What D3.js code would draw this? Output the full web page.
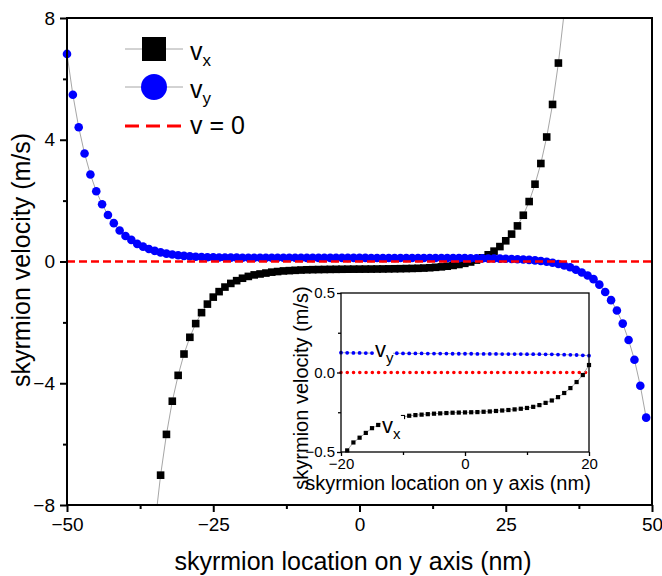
<!DOCTYPE html>
<html>
<head>
<meta charset="utf-8">
<script src="https://cdn.jsdelivr.net/npm/d3@7"></script>
<style>
  html, body { margin: 0; padding: 0; background: #fff; }
  svg { display: block; font-family: Arial, "Liberation Sans", sans-serif; }
</style>
</head>
<body>
<svg id="chart" width="662" height="576"></svg>
<script>
// Skyrmion velocity components versus position along y (nm)

// v_x samples (m/s) at positions vxPos (nm)
const vxPos = [-36,-35,-34,-33,-32,-31,-30,-29,-28,-27,-26,-25,-24,-23,-22,-21,-20,-19,-18,-17,-16,-15,-14,-13,-12,-11,-10,-9,-8,-7,-6,-5,-4,-3,-2,-1,0,1,2,3,4,5,6,7,8,9,10,11,12,13,14,15,16,17,18,19,20,21,22,23,24,25,26,27,28,29,30,31,32,33,34,35,36];
const vxVal = [-10.80,-8.70,-7.02,-5.68,-4.59,-3.74,-3.04,-2.49,-2.04,-1.68,-1.40,-1.17,-0.99,-0.84,-0.72,-0.63,-0.55,-0.49,-0.44,-0.41,-0.38,-0.35,-0.33,-0.31,-0.30,-0.29,-0.28,-0.272,-0.268,-0.265,-0.262,-0.259,-0.257,-0.255,-0.253,-0.252,-0.251,-0.250,-0.249,-0.247,-0.245,-0.242,-0.239,-0.236,-0.232,-0.228,-0.223,-0.216,-0.205,-0.191,-0.176,-0.155,-0.129,-0.098,-0.060,-0.016,0.047,0.12,0.22,0.34,0.49,0.68,0.90,1.17,1.52,1.97,2.54,3.22,4.09,5.16,6.52,8.20,10.40];

// v_y samples (m/s) at positions vyPos (nm)
const vyPos = [-50,-49,-48,-47,-46,-45,-44,-43,-42,-41,-40,-39,-38,-37,-36,-35,-34,-33,-32,-31,-30,-29,-28,-27,-26,-25,-24,-23,-22,-21,-20,-19,-18,-17,-16,-15,-14,-13,-12,-11,-10,-9,-8,-7,-6,-5,-4,-3,-2,-1,0,1,2,3,4,5,6,7,8,9,10,11,12,13,14,15,16,17,18,19,20,21,22,23,24,25,26,27,28,29,30,31,32,33,34,35,36,37,38,39,40,41,42,43,44,45,46,47,48,49];
const vyVal = [6.82,5.48,4.41,3.55,2.86,2.31,1.88,1.53,1.26,1.02,0.84,0.71,0.58,0.49,0.41,0.35,0.30,0.26,0.23,0.205,0.185,0.17,0.158,0.149,0.142,0.137,0.133,0.130,0.128,0.126,0.125,0.124,0.123,0.123,0.122,0.122,0.122,0.121,0.121,0.121,0.120,0.120,0.120,0.120,0.119,0.119,0.119,0.119,0.118,0.118,0.118,0.118,0.117,0.117,0.117,0.117,0.116,0.116,0.116,0.116,0.115,0.115,0.115,0.114,0.114,0.113,0.112,0.111,0.110,0.108,0.106,0.104,0.101,0.098,0.094,0.089,0.083,0.075,0.066,0.054,0.038,0.018,-0.008,-0.04,-0.08,-0.13,-0.19,-0.27,-0.36,-0.46,-0.58,-0.76,-1.00,-1.27,-1.61,-2.04,-2.58,-3.23,-4.08,-5.13];

// Axis ticks
const mainXTicks = [-50, -25, 0, 25, 50];
const mainXMinor = [-37.5, -12.5, 12.5, 37.5];
const mainYTicks = [-8, -4, 0, 4, 8];
const mainYMinor = [-6, -2, 2, 6];
const insetXTicks = [-20, 0, 20];
const insetXMinor = [-10, 10];
const insetYTicks = [-0.5, 0, 0.5];
const insetYMinor = [-0.25, 0.25];

// Legend entries
const legendLabels = [
  { main: "v", sub: "x" },
  { main: "v", sub: "y" },
  { main: "v = 0", sub: "" }
];

const vx = vxPos.map((p, i) => ({ p, v: vxVal[i] }));
const vy = vyPos.map((p, i) => ({ p, v: vyVal[i] }));

const svg = d3.select("#chart");
const FONT = 'Arial, "Liberation Sans", sans-serif';
const LINE_GREY = "#a6a6a6";

// ---------- main panel ----------
const M = { left: 67, right: 652, top: 18, bottom: 505 };
const x = d3.scaleLinear().domain([-50, 50]).range([M.left, M.right]);
const y = d3.scaleLinear().domain([-8, 8]).range([M.bottom, M.top]);

svg.append("clipPath").attr("id", "clipMain")
  .append("rect").attr("x", M.left).attr("y", M.top)
  .attr("width", M.right - M.left).attr("height", M.bottom - M.top);

const mainG = svg.append("g");
const inRange = (sx, sy) => d => d.v >= sy.domain()[0] && d.v <= sy.domain()[1] && d.p >= sx.domain()[0] && d.p <= sx.domain()[1];

const lineMain = d3.line().x(d => x(d.p)).y(d => y(d.v));

mainG.append("path").datum(vx).attr("d", lineMain)
  .attr("fill", "none").attr("stroke", LINE_GREY).attr("stroke-width", 1)
  .attr("clip-path", "url(#clipMain)");
mainG.append("g").selectAll("rect").data(vx.filter(inRange(x, y))).join("rect")
  .attr("x", d => x(d.p) - 3.8).attr("y", d => y(d.v) - 3.8)
  .attr("width", 7.6).attr("height", 7.6).attr("fill", "#000");

mainG.append("path").datum(vy).attr("d", lineMain)
  .attr("fill", "none").attr("stroke", LINE_GREY).attr("stroke-width", 1)
  .attr("clip-path", "url(#clipMain)");
mainG.append("g").selectAll("circle").data(vy.filter(inRange(x, y))).join("circle")
  .attr("cx", d => x(d.p)).attr("cy", d => y(d.v)).attr("r", 4.3)
  .attr("fill", "#0000ff");

// v = 0 reference
mainG.append("line")
  .attr("x1", x(-50)).attr("x2", x(50)).attr("y1", y(0)).attr("y2", y(0))
  .attr("stroke", "#ff0000").attr("stroke-width", 2.5).attr("stroke-dasharray", "8,4");

// frame
svg.append("rect").attr("x", M.left).attr("y", M.top)
  .attr("width", M.right - M.left).attr("height", M.bottom - M.top)
  .attr("fill", "none").attr("stroke", "#000").attr("stroke-width", 2);

// bottom axis
const xAxis = svg.append("g").attr("transform", `translate(0,${M.bottom})`)
  .call(d3.axisBottom(x).tickValues(mainXTicks).tickSize(7).tickPadding(6).tickFormat(d3.format("d")));
svg.append("g").attr("transform", `translate(0,${M.bottom})`)
  .call(d3.axisBottom(x).tickValues(mainXMinor).tickSize(4).tickFormat(""));
// left axis
const yAxis = svg.append("g").attr("transform", `translate(${M.left},0)`)
  .call(d3.axisLeft(y).tickValues(mainYTicks).tickSize(7).tickPadding(5).tickFormat(d3.format("d")));
svg.append("g").attr("transform", `translate(${M.left},0)`)
  .call(d3.axisLeft(y).tickValues(mainYMinor).tickSize(4).tickFormat(""));

svg.selectAll(".domain").remove();
svg.selectAll(".tick line").attr("stroke", "#000").attr("stroke-width", 2);
xAxis.selectAll("text").attr("font-size", 19).attr("font-family", FONT).attr("fill", "#000");
yAxis.selectAll("text").attr("font-size", 19).attr("font-family", FONT).attr("fill", "#000");

svg.append("text").attr("x", 353).attr("y", 570)
  .attr("text-anchor", "middle").attr("font-size", 25).attr("font-family", FONT)
  .text("skyrmion location on y axis (nm)");
svg.append("text").attr("transform", `translate(30,260) rotate(-90)`)
  .attr("text-anchor", "middle").attr("font-size", 25).attr("font-family", FONT)
  .text("skyrmion velocity (m/s)");

// ---------- legend ----------
const legend = svg.append("g");
const rowsY = [49, 87, 126];
const lx0 = 125, lx1 = 183, lxm = 154;
legend.append("line").attr("x1", lx0).attr("x2", lx1).attr("y1", rowsY[0]).attr("y2", rowsY[0])
  .attr("stroke", LINE_GREY).attr("stroke-width", 1);
legend.append("rect").attr("x", lxm - 12).attr("y", rowsY[0] - 12).attr("width", 24).attr("height", 24).attr("fill", "#000");
legend.append("line").attr("x1", lx0).attr("x2", lx1).attr("y1", rowsY[1]).attr("y2", rowsY[1])
  .attr("stroke", LINE_GREY).attr("stroke-width", 1);
legend.append("circle").attr("cx", lxm).attr("cy", rowsY[1]).attr("r", 13).attr("fill", "#0000ff");
legend.append("line").attr("x1", lx0).attr("x2", lx1).attr("y1", rowsY[2]).attr("y2", rowsY[2])
  .attr("stroke", "#ff0000").attr("stroke-width", 3).attr("stroke-dasharray", "14,7");

const baseOff = [11, 11, 8];
legendLabels.forEach((lab, i) => {
  const t = legend.append("text").attr("x", 190).attr("y", rowsY[i] + baseOff[i])
    .attr("font-size", 25).attr("font-family", FONT);
  t.append("tspan").text(lab.main);
  if (lab.sub) t.append("tspan").attr("font-size", 17).attr("dy", 6).text(lab.sub);
});

// ---------- inset ----------
const I = { left: 341, right: 589, top: 293, bottom: 452 };
const xi = d3.scaleLinear().domain([-20, 20]).range([I.left, I.right]);
const yi = d3.scaleLinear().domain([-0.5, 0.5]).range([I.bottom, I.top]);

svg.append("clipPath").attr("id", "clipInset")
  .append("rect").attr("x", I.left).attr("y", I.top)
  .attr("width", I.right - I.left).attr("height", I.bottom - I.top);

const ins = svg.append("g");
ins.append("rect").attr("x", I.left).attr("y", I.top)
  .attr("width", I.right - I.left).attr("height", I.bottom - I.top).attr("fill", "#fff");

const lineInset = d3.line().x(d => xi(d.p)).y(d => yi(d.v));

ins.append("path").datum(vy).attr("d", lineInset)
  .attr("fill", "none").attr("stroke", LINE_GREY).attr("stroke-width", 1)
  .attr("clip-path", "url(#clipInset)");
ins.append("g").selectAll("circle").data(vy.filter(inRange(xi, yi))).join("circle")
  .attr("cx", d => xi(d.p)).attr("cy", d => yi(d.v)).attr("r", 1.9).attr("fill", "#0000ff");

// zero line drawn as a row of red dots
ins.append("line").attr("x1", xi(-20)).attr("x2", xi(19.6)).attr("y1", yi(0)).attr("y2", yi(0))
  .attr("stroke", "#ff0000").attr("stroke-width", 3.6).attr("stroke-linecap", "round")
  .attr("stroke-dasharray", "0,6.27");

ins.append("path").datum(vx).attr("d", lineInset)
  .attr("fill", "none").attr("stroke", LINE_GREY).attr("stroke-width", 1)
  .attr("clip-path", "url(#clipInset)");
ins.append("g").selectAll("rect").data(vx.filter(inRange(xi, yi))).join("rect")
  .attr("x", d => xi(d.p) - 2.1).attr("y", d => yi(d.v) - 2.1)
  .attr("width", 4.2).attr("height", 4.2).attr("fill", "#000");

// inset curve labels on white patches
ins.append("rect").attr("x", 374).attr("y", 341).attr("width", 19).attr("height", 27).attr("fill", "#fff");
ins.append("rect").attr("x", 381).attr("y", 416).attr("width", 23).attr("height", 25).attr("fill", "#fff");
const ly = ins.append("text").attr("x", 375).attr("y", 357).attr("font-size", 22).attr("font-family", FONT);
ly.append("tspan").text("v");
ly.append("tspan").attr("font-size", 15).attr("dy", 6).text("y");
const lxl = ins.append("text").attr("x", 382).attr("y", 433).attr("font-size", 22).attr("font-family", FONT);
lxl.append("tspan").text("v");
lxl.append("tspan").attr("font-size", 15).attr("dy", 6).text("x");

ins.append("rect").attr("x", I.left).attr("y", I.top)
  .attr("width", I.right - I.left).attr("height", I.bottom - I.top)
  .attr("fill", "none").attr("stroke", "#000").attr("stroke-width", 1.3);

const ixAxis = ins.append("g").attr("transform", `translate(0,${I.bottom})`)
  .call(d3.axisBottom(xi).tickValues(insetXTicks).tickSize(4).tickPadding(2).tickFormat(d3.format("d")));
const ixMinor = ins.append("g").attr("transform", `translate(0,${I.bottom})`)
  .call(d3.axisBottom(xi).tickValues(insetXMinor).tickSize(3).tickFormat(""));
const iyAxis = ins.append("g").attr("transform", `translate(${I.left},0)`)
  .call(d3.axisLeft(yi).tickValues(insetYTicks).tickSize(4).tickPadding(2).tickFormat(d3.format(".1f")));
const iyMinor = ins.append("g").attr("transform", `translate(${I.left},0)`)
  .call(d3.axisLeft(yi).tickValues(insetYMinor).tickSize(3).tickFormat(""));
[ixAxis, ixMinor, iyAxis, iyMinor].forEach(g => {
  g.select(".domain").remove();
  g.selectAll(".tick line").attr("stroke", "#000").attr("stroke-width", 1.3);
  g.selectAll("text").attr("font-size", 15).attr("font-family", FONT).attr("fill", "#000");
});

ins.append("text").attr("x", 448).attr("y", 490)
  .attr("text-anchor", "middle").attr("font-size", 20).attr("font-family", FONT)
  .text("skyrmion location on y axis (nm)");
ins.append("text").attr("transform", `translate(308,388) rotate(-90)`)
  .attr("text-anchor", "middle").attr("font-size", 20).attr("font-family", FONT)
  .text("skyrmion velocity (m/s)");
</script>
</body>
</html>
